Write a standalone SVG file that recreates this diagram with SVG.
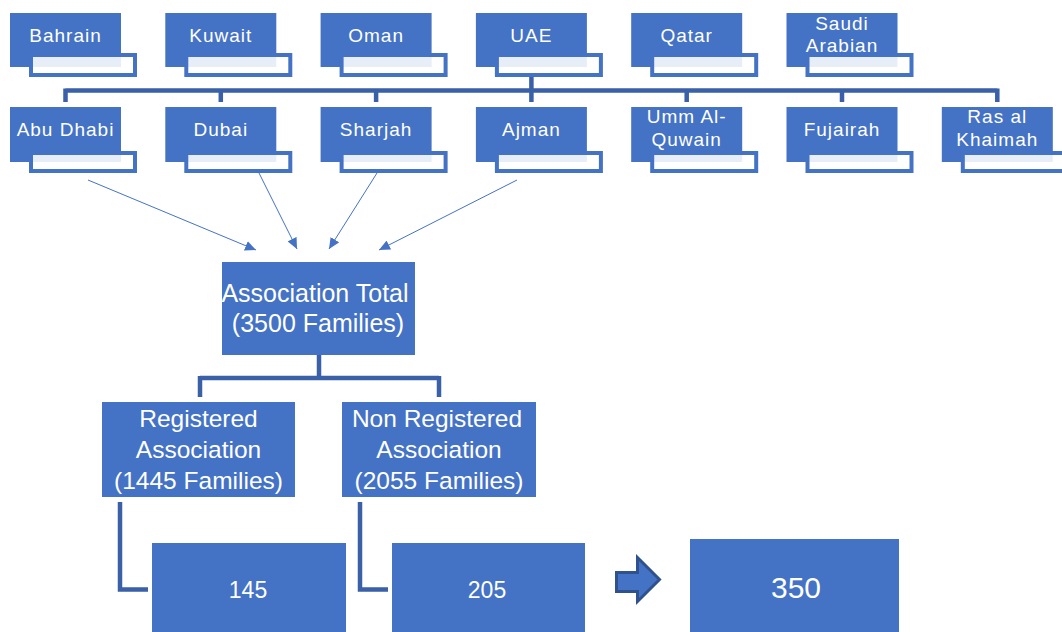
<svg xmlns="http://www.w3.org/2000/svg" width="1062" height="632" viewBox="0 0 1062 632">
<style>
.main{fill:#4472c4;}
.sub{fill:#ffffff;fill-opacity:0.88;stroke:#4472c4;stroke-width:4;}
.box{fill:#4472c4;}
.t{font-family:"Liberation Sans",Arial,sans-serif;fill:#ffffff;text-anchor:middle;}
.s{font-size:19px;letter-spacing:1px;}
.m{font-size:25px;}
.r{font-size:24.5px;}
.n{font-size:23px;}
.conn{fill:none;stroke:#3a60a8;stroke-width:4.5;}
.thin{fill:none;stroke:#4472c4;stroke-width:1;marker-end:url(#ah);}
</style>
<defs>
<marker id="ah" markerUnits="userSpaceOnUse" markerWidth="12" markerHeight="10" refX="11" refY="5" orient="auto">
<path d="M0,0 L11,5 L0,10 z" fill="#4472c4"/>
</marker>
</defs>
<rect width="1062" height="632" fill="#ffffff"/>
<g id="connectors">
<path class="conn" d="M531.4,77 V90.5 M65.5,90.5 H997.3 M65.5,88.5 V102 M220.8,88.5 V102 M376.1,88.5 V102 M531.4,88.5 V102 M686.7,88.5 V102 M842,88.5 V102 M997.3,88.5 V102"/>
<line class="thin" x1="88" y1="180" x2="256" y2="250"/>
<line class="thin" x1="259" y1="173" x2="297" y2="249"/>
<line class="thin" x1="377" y1="173" x2="329" y2="249"/>
<line class="thin" x1="517" y1="180" x2="379" y2="250"/>
<path class="conn" d="M319,355 V378 M200,378 H439 M200,376 V397 M439,376 V397"/>
<path class="conn" d="M120,502 V589.5 H148 M360,502 V589.5 H388"/>
</g>
<g id="bahrain"><rect class="main" x="10" y="13" width="111" height="54"/><rect class="sub" x="31" y="55" width="104" height="20"/><text class="t s" x="65.5" y="42">Bahrain</text></g>
<g id="kuwait"><rect class="main" x="165.3" y="13" width="111" height="54"/><rect class="sub" x="186.3" y="55" width="104" height="20"/><text class="t s" x="220.8" y="42">Kuwait</text></g>
<g id="oman"><rect class="main" x="320.6" y="13" width="111" height="54"/><rect class="sub" x="341.6" y="55" width="104" height="20"/><text class="t s" x="376.1" y="42">Oman</text></g>
<g id="uae"><rect class="main" x="475.9" y="13" width="111" height="54"/><rect class="sub" x="496.9" y="55" width="104" height="20"/><text class="t s" x="531.4" y="42">UAE</text></g>
<g id="qatar"><rect class="main" x="631.2" y="13" width="111" height="54"/><rect class="sub" x="652.2" y="55" width="104" height="20"/><text class="t s" x="686.7" y="42">Qatar</text></g>
<g id="saudi"><rect class="main" x="786.5" y="13" width="111" height="54"/><rect class="sub" x="807.5" y="55" width="104" height="20"/><text class="t s" x="842" y="30">Saudi</text><text class="t s" x="842" y="52">Arabian</text></g>
<g id="abudhabi"><rect class="main" x="10" y="107" width="111" height="55"/><rect class="sub" x="31" y="153" width="104" height="18"/><text class="t s" x="65.5" y="136">Abu Dhabi</text></g>
<g id="dubai"><rect class="main" x="165.3" y="107" width="111" height="55"/><rect class="sub" x="186.3" y="153" width="104" height="18"/><text class="t s" x="220.8" y="136">Dubai</text></g>
<g id="sharjah"><rect class="main" x="320.6" y="107" width="111" height="55"/><rect class="sub" x="341.6" y="153" width="104" height="18"/><text class="t s" x="376.1" y="136">Sharjah</text></g>
<g id="ajman"><rect class="main" x="475.9" y="107" width="111" height="55"/><rect class="sub" x="496.9" y="153" width="104" height="18"/><text class="t s" x="531.4" y="136">Ajman</text></g>
<g id="ummalquwain"><rect class="main" x="631.2" y="107" width="111" height="55"/><rect class="sub" x="652.2" y="153" width="104" height="18"/><text class="t s" x="686.7" y="123">Umm Al-</text><text class="t s" x="686.7" y="146">Quwain</text></g>
<g id="fujairah"><rect class="main" x="786.5" y="107" width="111" height="55"/><rect class="sub" x="807.5" y="153" width="104" height="18"/><text class="t s" x="842" y="136">Fujairah</text></g>
<g id="rasalkhaimah"><rect class="main" x="941.8" y="107" width="111" height="55"/><rect class="sub" x="962.8" y="153" width="104" height="18"/><text class="t s" x="997.3" y="123">Ras al</text><text class="t s" x="997.3" y="146">Khaimah</text></g>
<g id="total"><rect class="box" x="222" y="262" width="193" height="93"/><text class="t m" x="315" y="302">Association Total</text><text class="t m" x="318" y="332">(3500 Families)</text></g>
<g id="registered"><rect class="box" x="102" y="402" width="193" height="95"/><text class="t r" x="198.5" y="427">Registered</text><text class="t r" x="198.5" y="458">Association</text><text class="t r" x="198.5" y="489">(1445 Families)</text></g>
<g id="nonregistered"><rect class="box" x="342" y="402" width="194" height="95"/><text class="t r" x="437" y="427">Non Registered</text><text class="t r" x="439" y="458">Association</text><text class="t r" x="439" y="489">(2055 Families)</text></g>
<g id="n145"><rect class="box" x="152" y="543" width="194" height="89"/><text class="t n" x="248" y="598">145</text></g>
<g id="n205"><rect class="box" x="392" y="543" width="193" height="89"/><text class="t n" x="487" y="598">205</text></g>
<g id="blockarrow"><path d="M616.5,572.5 H637.5 V557.5 L659.5,579.5 L637.5,601.5 V591.5 H616.5 Z" fill="#4472c4" stroke="#2f528f" stroke-width="3" stroke-linejoin="miter"/></g>
<g id="n350"><rect class="box" x="690" y="539" width="209" height="93"/><text class="t" x="796" y="598" style="font-size:30px">350</text></g>
</svg>
